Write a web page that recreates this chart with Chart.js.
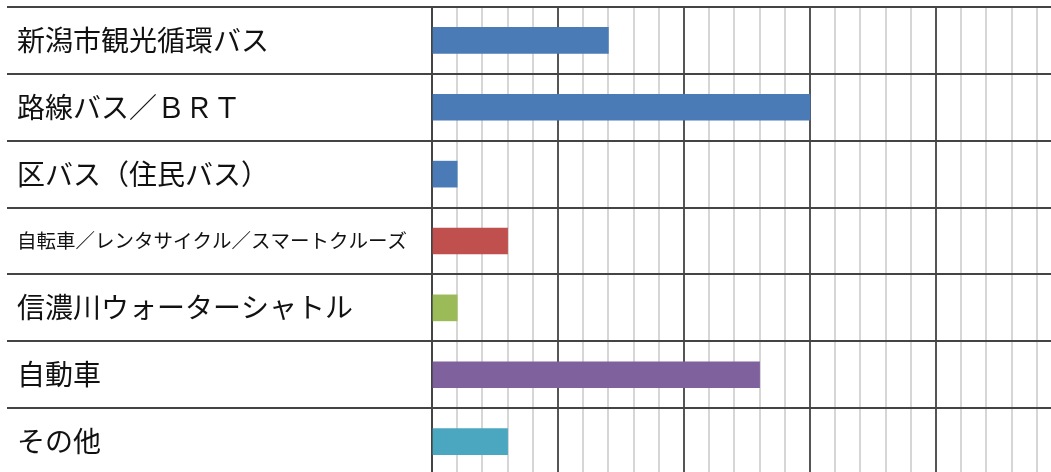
<!DOCTYPE html>
<html>
<head>
<meta charset="utf-8">
<script src="https://cdn.jsdelivr.net/npm/chart.js@4/dist/chart.umd.min.js"></script>
<style>
  html, body { margin: 0; padding: 0; background: #fff; overflow: hidden; }
  canvas { display: block; }
</style>
</head>
<body>
<canvas id="chart1" width="1064" height="476" style="width:1064px;height:476px"></canvas>
<script>
const categories = ['新潟市観光循環バス', '路線バス／ＢＲＴ', '区バス（住民バス）', '自転車／レンタサイクル／スマートクルーズ', '信濃川ウォーターシャトル', '自動車', 'その他'];
const values = [7, 15, 1, 3, 1, 13, 3];
const barColors = ['#4a7bb6', '#4a7bb6', '#4a7bb6', '#c0504d', '#9bbb59', '#7f619e', '#4ba7c0'];
const axisMax = 25;

window.onload = function () {
    let chart1 = document.getElementById('chart1').getContext('2d');

    new Chart(chart1, {
        type: 'bar',
        data: {
            labels: categories,
            datasets: [{
                data: values,
                backgroundColor: barColors,
                barThickness: 26
            }]
        },
        options: {
            indexAxis: 'y',
            responsive: false,
            animation: false,
            layout: { padding: { left: 17, top: 7, right: 2, bottom: 1 } },
            plugins: { legend: { display: false }, tooltip: { enabled: false } },
            scales: {
                x: {
                    min: 0,
                    max: axisMax,
                    ticks: { display: false, stepSize: 1 },
                    border: { display: false },
                    grid: {
                        drawTicks: false,
                        color: (ctx) => ctx.tick.value % 5 === 0 ? '#555555' : '#d6d6d6',
                        lineWidth: 2
                    }
                },
                y: {
                    afterFit: (scale) => {
                        // fixed label column, no extra padding from label heights
                        scale.width = 415;
                        scale.paddingTop = 0;
                        scale.paddingBottom = 0;
                    },
                    border: { color: '#444444', width: 2 },
                    grid: {
                        color: '#444444',
                        lineWidth: 2,
                        tickLength: 425,
                        offset: true
                    },
                    ticks: {
                        crossAlign: 'far',
                        color: '#111111',
                        padding: 0,
                        font: (ctx) => ({
                            family: '"Noto Sans CJK JP", sans-serif',
                            size: ctx.index === 3 ? 19.5 : 28
                        })
                    }
                }
            }
        }
    });
}
</script>
</body>
</html>
